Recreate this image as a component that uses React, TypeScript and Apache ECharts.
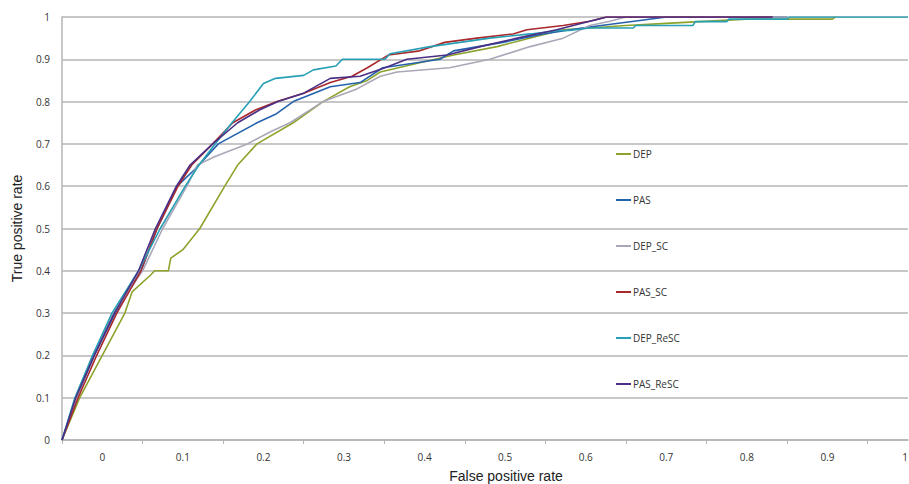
import React, { useEffect, useRef } from "react";
import * as echarts from "echarts";

const seriesNames = ["DEP", "PAS", "DEP_SC", "PAS_SC", "DEP_ReSC", "PAS_ReSC"];
const seriesColors = ["#8ca32c", "#2462ae", "#aaa7b8", "#a8282c", "#27a0b5", "#4a2f86"];

const xTickValues = [-0.05, 0.05, 0.15, 0.25, 0.35, 0.45, 0.55, 0.65, 0.75, 0.85, 0.95];
const xLabelValues = [0, 0.1, 0.2, 0.3, 0.4, 0.5, 0.6, 0.7, 0.8, 0.9, 1];

const dep: number[][] = [
  [-0.05, 0], [-0.028, 0.1], [0, 0.2], [0.028, 0.3], [0.037, 0.35], [0.06, 0.39], [0.065, 0.4],
  [0.082, 0.4], [0.085, 0.43], [0.1, 0.45], [0.121, 0.5], [0.152, 0.6], [0.168, 0.65], [0.192, 0.7],
  [0.237, 0.75], [0.274, 0.8], [0.307, 0.835], [0.329, 0.85], [0.345, 0.87], [0.39, 0.89],
  [0.436, 0.91], [0.49, 0.93], [0.53, 0.95], [0.572, 0.97], [0.65, 0.98], [0.7, 0.985],
  [0.8, 0.995], [0.906, 0.995], [0.91, 1],
];
const pas: number[][] = [
  [-0.05, 0], [-0.032, 0.1], [-0.01, 0.2], [0.016, 0.3], [0.048, 0.4], [0.068, 0.5], [0.093, 0.6],
  [0.115, 0.64], [0.144, 0.7], [0.192, 0.75], [0.215, 0.77], [0.237, 0.8], [0.283, 0.835],
  [0.32, 0.845], [0.348, 0.88], [0.384, 0.89], [0.419, 0.9], [0.436, 0.92], [0.497, 0.94],
  [0.547, 0.96], [0.6, 0.975], [0.66, 0.99], [0.7, 1], [0.85, 1],
];
const depSc: number[][] = [
  [-0.05, 0], [-0.032, 0.1], [-0.012, 0.2], [0.014, 0.3], [0.05, 0.4], [0.075, 0.5], [0.105, 0.6],
  [0.118, 0.65], [0.14, 0.67], [0.18, 0.7], [0.21, 0.73], [0.233, 0.75], [0.274, 0.8],
  [0.316, 0.83], [0.345, 0.86], [0.366, 0.87], [0.431, 0.88], [0.481, 0.9], [0.531, 0.93],
  [0.572, 0.95], [0.605, 0.98], [0.63, 0.99], [0.65, 1], [0.85, 1],
];
const pasSc: number[][] = [
  [-0.05, 0], [-0.03, 0.1], [-0.007, 0.2], [0.018, 0.3], [0.048, 0.4], [0.068, 0.5], [0.094, 0.6],
  [0.111, 0.65], [0.137, 0.7], [0.162, 0.75], [0.19, 0.78], [0.217, 0.8], [0.25, 0.82],
  [0.283, 0.845], [0.31, 0.86], [0.329, 0.88], [0.355, 0.91], [0.394, 0.92], [0.425, 0.94],
  [0.465, 0.95], [0.51, 0.96], [0.527, 0.97], [0.572, 0.98], [0.605, 0.99], [0.626, 1], [0.832, 1],
];
const depReSc: number[][] = [
  [-0.05, 0], [-0.034, 0.1], [-0.012, 0.2], [0.012, 0.3], [0.045, 0.4], [0.072, 0.5], [0.103, 0.6],
  [0.12, 0.65], [0.14, 0.7], [0.161, 0.75], [0.183, 0.8], [0.2, 0.843], [0.215, 0.855],
  [0.25, 0.862], [0.262, 0.875], [0.29, 0.884], [0.298, 0.9], [0.351, 0.9], [0.357, 0.913],
  [0.407, 0.93], [0.481, 0.95], [0.531, 0.96], [0.568, 0.968], [0.58, 0.968], [0.605, 0.974],
  [0.659, 0.974], [0.662, 0.98], [0.733, 0.98], [0.736, 0.989], [0.775, 0.989], [0.778, 0.995],
  [0.85, 0.995], [0.853, 1], [1, 1],
];
const pasReSc: number[][] = [
  [-0.05, 0], [-0.033, 0.1], [-0.01, 0.2], [0.015, 0.3], [0.045, 0.4], [0.066, 0.5], [0.092, 0.6],
  [0.109, 0.65], [0.137, 0.7], [0.168, 0.75], [0.195, 0.78], [0.218, 0.8], [0.25, 0.82],
  [0.283, 0.855], [0.32, 0.86], [0.351, 0.88], [0.378, 0.9], [0.428, 0.91], [0.469, 0.93],
  [0.515, 0.95], [0.564, 0.97], [0.605, 0.99], [0.626, 1], [0.832, 1],
];

const seriesData = [dep, pas, depSc, pasSc, depReSc, pasReSc];

export default function App() {
  const ref = useRef<HTMLDivElement>(null);
  useEffect(() => {
    if (!ref.current) return;
    const chart = echarts.init(ref.current, null, { renderer: "svg" });
    const gridColor = "#b4b4b4";
    chart.setOption({
      animation: false,
      backgroundColor: "#ffffff",
      grid: { left: 62, right: 1, top: 17, bottom: 44, outerBoundsMode: "none", containLabel: false },
      legend: {
        orient: "vertical",
        left: 611,
        top: 144,
        itemGap: 36,
        itemWidth: 15,
        itemHeight: 2,
        icon: "rect",
        textStyle: { fontFamily: "Open Sans", fontSize: 10, color: "#333", padding: [0, 0, 0, -3] },
        data: seriesNames,
      },
      xAxis: {
        type: "value",
        min: -0.05,
        max: 1,
        name: "False positive rate",
        nameLocation: "middle",
        nameGap: 29,
        nameTextStyle: {
          fontFamily: "Liberation Sans",
          fontSize: 14,
          color: "#222",
          padding: [0, 0, 0, 42],
        },
        axisLine: { show: true, onZero: false, lineStyle: { color: gridColor, width: 1.5 } },
        axisTick: { show: true, length: 4, lineStyle: { color: gridColor }, customValues: xTickValues },
        axisLabel: {
          customValues: xLabelValues,
          margin: 12,
          alignMaxLabel: "right",
          fontFamily: "Open Sans",
          fontSize: 10,
          color: "#333",
          formatter: (v: number) => String(Math.round(v * 10) / 10),
        },
        splitLine: { show: false },
      },
      yAxis: {
        type: "value",
        min: 0,
        max: 1,
        interval: 0.1,
        name: "True positive rate",
        nameLocation: "middle",
        nameGap: 38,
        nameTextStyle: { fontFamily: "Liberation Sans", fontSize: 14, color: "#222" },
        axisLine: { show: true, onZero: false, lineStyle: { color: gridColor, width: 1.5 } },
        axisTick: { show: false },
        axisLabel: {
          margin: 12,
          fontFamily: "Open Sans",
          fontSize: 10,
          color: "#333",
          formatter: (v: number) => String(Math.round(v * 10) / 10),
        },
        splitLine: { show: true, lineStyle: { color: gridColor, width: 1.5 } },
      },
      series: seriesNames.map((name, i) => ({
        name,
        type: "line",
        data: seriesData[i],
        showSymbol: false,
        symbol: "none",
        lineStyle: { color: seriesColors[i], width: 1.6 },
        itemStyle: { color: seriesColors[i] },
      })),
    });
    return () => chart.dispose();
  }, []);
  return <div ref={ref} style={{ width: 909, height: 484, position: "absolute", left: 0, top: 0 }} />;
}
